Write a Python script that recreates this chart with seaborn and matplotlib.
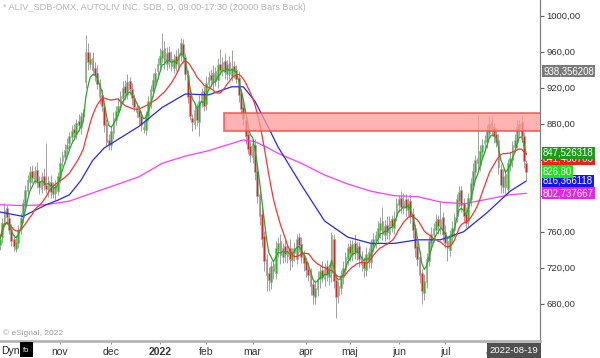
import matplotlib
matplotlib.use("Agg")
import matplotlib.pyplot as plt
import matplotlib.transforms as mtransforms
from matplotlib.patches import Rectangle
import seaborn as sns
import numpy as np
import pandas as pd

# Stockholm trading days shown on the chart
FIRST_DAY = "2021-09-24"
LAST_DAY = "2022-08-19"
HOLIDAYS = ["2021-12-24", "2021-12-31", "2022-01-06", "2022-04-15",
            "2022-04-18", "2022-05-26", "2022-06-06", "2022-06-24"]

opens = [
    745, 754, 772, 786, 775, 763, 752, 741, 748, 763,
    776, 790, 805, 815, 828, 818, 829, 816, 808, 822,
    812, 806, 815, 802, 812, 805, 820, 838, 843, 852,
    858, 865, 874, 868, 883, 876, 889, 926, 960, 946,
    953, 942, 936, 925, 912, 898, 880, 862, 856, 870,
    884, 893, 902, 909, 922, 912, 927, 919, 909, 898,
    895, 889, 876, 873, 888, 904, 916, 926, 938, 945,
    953, 964, 946, 960, 952, 942, 955, 944, 956, 968,
    954, 934, 912, 886, 880, 897, 882, 904, 916, 902,
    924, 934, 926, 938, 928, 946, 938, 950, 935, 948,
    933, 944, 940, 931, 914, 898, 884, 868, 855, 843,
    856, 828, 802, 780, 755, 730, 714, 704, 724, 714,
    740, 750, 732, 744, 733, 742, 729, 736, 730, 754,
    746, 734, 727, 719, 714, 702, 688, 696, 707, 718,
    708, 722, 710, 714, 752, 706, 690, 698, 710, 718,
    730, 744, 734, 748, 736, 744, 732, 726, 718, 737,
    726, 744, 750, 754, 762, 772, 756, 768, 758, 774,
    764, 778, 790, 798, 786, 796, 784, 794, 780, 764,
    744, 732, 714, 692, 704, 728, 748, 756, 762, 774,
    764, 776, 760, 750, 740, 754, 762, 778, 794, 806,
    792, 780, 772, 796, 812, 826, 842, 834, 848, 858,
    860, 870, 882, 876, 868, 862, 830, 810, 824, 808,
    834, 840, 854, 860, 874, 882, 866, 836,
]
closes = [
    752, 770, 784, 776, 762, 750, 744, 749, 762, 775,
    792, 806, 818, 826, 820, 828, 815, 810, 821, 812,
    808, 816, 804, 810, 803, 822, 836, 845, 851, 856,
    866, 872, 870, 881, 878, 888, 892, 960, 948, 952,
    940, 934, 924, 910, 900, 878, 860, 857, 872, 886,
    894, 900, 911, 920, 914, 926, 918, 908, 899, 893,
    887, 878, 874, 890, 905, 918, 928, 936, 946, 955,
    962, 948, 958, 950, 944, 952, 946, 958, 970, 955,
    935, 910, 889, 882, 895, 884, 905, 915, 900, 925,
    932, 928, 936, 927, 945, 940, 948, 937, 946, 935,
    942, 938, 930, 912, 896, 885, 866, 852, 845, 858,
    826, 800, 778, 752, 728, 712, 706, 722, 716, 742,
    748, 734, 742, 735, 740, 730, 737, 742, 752, 745,
    732, 725, 718, 712, 700, 690, 697, 708, 716, 710,
    720, 712, 718, 756, 705, 688, 700, 712, 720, 732,
    742, 736, 746, 738, 743, 730, 724, 720, 735, 728,
    746, 752, 756, 764, 770, 758, 766, 760, 772, 766,
    775, 792, 796, 788, 794, 786, 792, 778, 762, 742,
    730, 712, 694, 705, 730, 750, 758, 764, 772, 766,
    774, 758, 748, 742, 756, 764, 776, 796, 804, 790,
    778, 770, 798, 814, 828, 840, 836, 850, 856, 862,
    872, 880, 874, 866, 860, 832, 812, 822, 810, 836,
    842, 856, 862, 876, 880, 866, 838, 826.8,
]
# wick lengths above / below the candle body
upper_wick = [
    6, 5, 8, 4, 5, 6, 4, 7, 5, 6,
    4, 6, 5, 7, 6, 5, 8, 6, 5, 9,
    47, 6, 8, 5, 6, 4, 7, 5, 6, 8,
    5, 7, 6, 4, 8, 5, 4, 18, 10, 8,
    7, 6, 9, 5, 6, 4, 5, 6, 5, 7,
    6, 8, 5, 7, 6, 9, 5, 6, 4, 5,
    6, 5, 7, 4, 6, 5, 8, 6, 7, 9,
    19, 8, 7, 6, 9, 5, 7, 6, 5, 6,
    5, 6, 7, 5, 8, 6, 7, 5, 6, 8,
    6, 7, 9, 5, 8, 17, 6, 8, 5, 7,
    20, 6, 5, 7, 5, 6, 5, 8, 6, 5,
    7, 6, 5, 8, 6, 5, 7, 6, 5, 8,
    6, 7, 5, 8, 6, 10, 5, 7, 6, 5,
    8, 6, 5, 7, 6, 5, 7, 8, 6, 9,
    5, 7, 6, 4, 6, 7, 5, 6, 8, 5,
    6, 7, 5, 9, 6, 5, 7, 6, 8, 5,
    6, 7, 5, 8, 6, 16, 7, 9, 6, 5,
    8, 6, 5, 7, 9, 6, 5, 7, 6, 5,
    6, 7, 5, 8, 6, 5, 7, 6, 8, 5,
    19, 6, 7, 5, 6, 8, 5, 6, 7, 5,
    6, 7, 5, 6, 8, 5, 48, 6, 7, 5,
    6, 8, 6, 5, 7, 6, 5, 8, 6, 5,
    7, 5, 6, 8, 4, 6, 5, 4,
]
lower_wick = [
    5, 6, 4, 7, 5, 6, 5, 4, 6, 5,
    6, 4, 5, 7, 6, 5, 6, 8, 5, 6,
    5, 7, 6, 5, 8, 4, 6, 5, 7, 6,
    5, 6, 8, 5, 6, 7, 5, 6, 8, 5,
    6, 7, 5, 8, 6, 7, 5, 6, 5, 7,
    6, 5, 7, 6, 8, 5, 6, 7, 5, 6,
    8, 6, 4, 6, 5, 7, 6, 5, 8, 6,
    5, 7, 6, 8, 5, 6, 7, 5, 6, 8,
    6, 7, 5, 10, 6, 7, 16, 5, 6, 7,
    5, 6, 7, 5, 8, 6, 5, 7, 6, 5,
    6, 7, 5, 8, 6, 7, 9, 6, 8, 7,
    9, 8, 10, 9, 12, 18, 12, 8, 9, 7,
    8, 10, 7, 9, 8, 12, 8, 9, 6, 8,
    7, 9, 8, 7, 10, 10, 8, 7, 9, 6,
    8, 7, 9, 10, 8, 24, 9, 7, 8, 6,
    7, 9, 6, 8, 7, 9, 8, 10, 7, 8,
    6, 7, 8, 6, 9, 7, 6, 8, 7, 6,
    7, 6, 8, 7, 6, 9, 7, 8, 9, 10,
    8, 9, 14, 8, 7, 6, 8, 7, 6, 8,
    7, 8, 6, 15, 7, 6, 8, 7, 6, 8,
    7, 6, 8, 7, 6, 9, 8, 7, 6, 8,
    7, 6, 8, 7, 6, 8, 9, 7, 8, 6,
    7, 8, 6, 7, 8, 6, 7, 9,
]

# slow averages (blue / magenta) at these bars
blue_bars = [0, 10, 20, 25, 30, 35, 40, 45, 50, 60, 70, 80, 90, 100, 105, 110,
             115, 120, 130, 140, 150, 160, 170, 180, 190, 200, 210, 220, 227]
ma_blue = [782, 777, 790, 795, 801, 817, 839, 853, 861, 877, 898, 913, 912, 921, 921, 905,
           880, 854, 812, 772, 754, 747, 747, 751, 751, 760, 781, 805, 816.4]
magenta_bars = [0, 10, 20, 30, 40, 50, 60, 70, 80, 90, 100, 105, 110,
                115, 120, 130, 140, 150, 160, 170, 180, 190, 200, 210, 220, 227]
ma_magenta = [790, 789, 790, 794, 803, 812, 821, 836, 844, 850, 858, 862, 860,
              854, 847, 836, 823, 813, 805, 800, 799, 793, 791, 796, 801, 802.7]

# resistance zone drawn on the chart
zone_start = "2022-02-11"
zone_low = 872
zone_high = 892

badge_values = [938.356208, 841.466703, 847.526318, 816.366118, 826.80, 802.737667]
badge_texts = ["938,356208", "841,466703", "847,526318", "816,366118", "826,80", "802,737667"]
badge_colors = ["#7a7a7a", "#e8231e", "#1c9c1c", "#1414f0", "#19e619", "#f01ef0"]

price_ticks = [680, 720, 760, 800, 840, 880, 920, 960, 1000]
hidden_ticks = [800, 840]  # covered by the value badges

month_labels = ["nov", "dec", "2022", "feb", "mar", "apr", "maj", "jun", "jul", "aug"]
month_starts = ["2021-11-01", "2021-12-01", "2022-01-01", "2022-02-01", "2022-03-01",
                "2022-04-01", "2022-05-01", "2022-06-01", "2022-07-01", "2022-08-01"]

sns.set_style("white")
plt.rcParams["font.family"] = ["Liberation Sans", "DejaVu Sans"]

dates = pd.bdate_range(FIRST_DAY, LAST_DAY)
dates = dates[~dates.isin(pd.to_datetime(HOLIDAYS))]
n = len(dates)
x = np.arange(n)
o = np.array(opens, dtype=float)
c = np.array(closes, dtype=float)
hi = np.maximum(o, c) + np.array(upper_wick)
lo = np.minimum(o, c) - np.array(lower_wick)

fig = plt.figure(figsize=(6, 3.58), dpi=100)
ax = fig.add_axes([0, 17 / 358, 540 / 600, 341 / 358])
ax.set_xlim(0.1, 232.9)
ax.set_ylim(638.6, 1017.4)

# candles
ax.vlines(x, lo, hi, color="#a0a0a0", lw=0.7, zorder=2)
body_colors = np.where(c >= o, "#1fbf1f", "#e41f1f")
ax.bar(x, c - o, bottom=o, width=0.75, color=body_colors,
       edgecolor="#a8a8a8", linewidth=0.4, zorder=3)

# moving averages
close_s = pd.Series(c)
ma_green = close_s.ewm(span=5, adjust=False).mean()
ma_red = close_s.rolling(15, min_periods=1).mean()
sns.lineplot(x=magenta_bars, y=ma_magenta, ax=ax, color="#ff3cff", lw=0.9, zorder=4)
sns.lineplot(x=blue_bars, y=ma_blue, ax=ax, color="#2626f0", lw=0.9, zorder=4)
sns.lineplot(x=x, y=ma_red, ax=ax, color="#ff3030", lw=0.9, zorder=4)
sns.lineplot(x=x, y=ma_green, ax=ax, color="#2aa62a", lw=0.9, zorder=4)

# zone
zx = dates.get_loc(pd.Timestamp(zone_start)) - 0.3
ax.add_patch(Rectangle((zx, zone_low), 240 - zx, zone_high - zone_low,
                       facecolor="#ff9a9a", alpha=0.75, edgecolor="#ff4040",
                       lw=1.3, zorder=5, clip_on=True))

# axes styling
for side in ["top", "left"]:
    ax.spines[side].set_visible(False)
ax.spines["right"].set_color("#808080")
ax.spines["right"].set_linewidth(0.9)
ax.spines["bottom"].set_color("#b4b4b4")
ax.spines["bottom"].set_linewidth(2)

ax.yaxis.tick_right()
ax.set_yticks(price_ticks)
ax.set_yticklabels(["" if v in hidden_ticks else f"{v:.2f}".replace(".", ",")
                    for v in price_ticks])
ax.tick_params(axis="y", right=True, length=3, width=0.8, color="#606060",
               labelsize=6.8, labelcolor="#333333", pad=1.5)

month_idx = [int(dates.searchsorted(pd.Timestamp(m))) for m in month_starts]
ax.set_xticks(month_idx)
ax.set_xticklabels(month_labels)
ax.tick_params(axis="x", bottom=True, length=2.5, width=0.8, color="#909090",
               labelsize=7.5, labelcolor="#333333", pad=2)
ax.get_xticklabels()[2].set_fontweight("bold")
ax.set_xlabel("")
ax.set_ylabel("")

# texts
ax.text(3 / 540, 1 - 8 / 341, "* ALIV_SDB-OMX, AUTOLIV INC. SDB, D, 09:00-17:30 (20000 Bars Back)",
        transform=ax.transAxes, color="#b4b4b4", fontsize=6.6, va="center", ha="left")
ax.text(3 / 540, 8 / 341, "\u00a9 eSignal, 2022", transform=ax.transAxes,
        color="#9a9a9a", fontsize=6, va="center", ha="left")

trans = mtransforms.blended_transform_factory(ax.transAxes, ax.transData)
for v, s, col in zip(badge_values, badge_texts, badge_colors):
    ax.annotate(s, xy=(1, v), xycoords=trans, xytext=(2.2, 0), textcoords="offset points",
                ha="left", va="center", fontsize=6.9, color="white", zorder=10,
                bbox=dict(boxstyle="square,pad=0.12", fc=col, ec="none"))

# bottom strip
fig.text(1 / 600, 1 - 351 / 358, "Dyn", fontsize=7.5, color="#222222", va="center", ha="left")
fig.patches.append(Rectangle((20 / 600, 1 / 358), 13 / 600, 15 / 358,
                             transform=fig.transFigure, facecolor="black", edgecolor="none"))
fig.text(26.5 / 600, 1 - 350 / 358, "fo", fontsize=5.5, color="white", va="center", ha="center")
fig.text(514 / 600, 1 - 350.5 / 358, "2022-08-19", fontsize=6.8, color="white",
         va="center", ha="center",
         bbox=dict(boxstyle="square,pad=0.3", fc="#505050", ec="none"))

fig.savefig("out.png", dpi=100)
